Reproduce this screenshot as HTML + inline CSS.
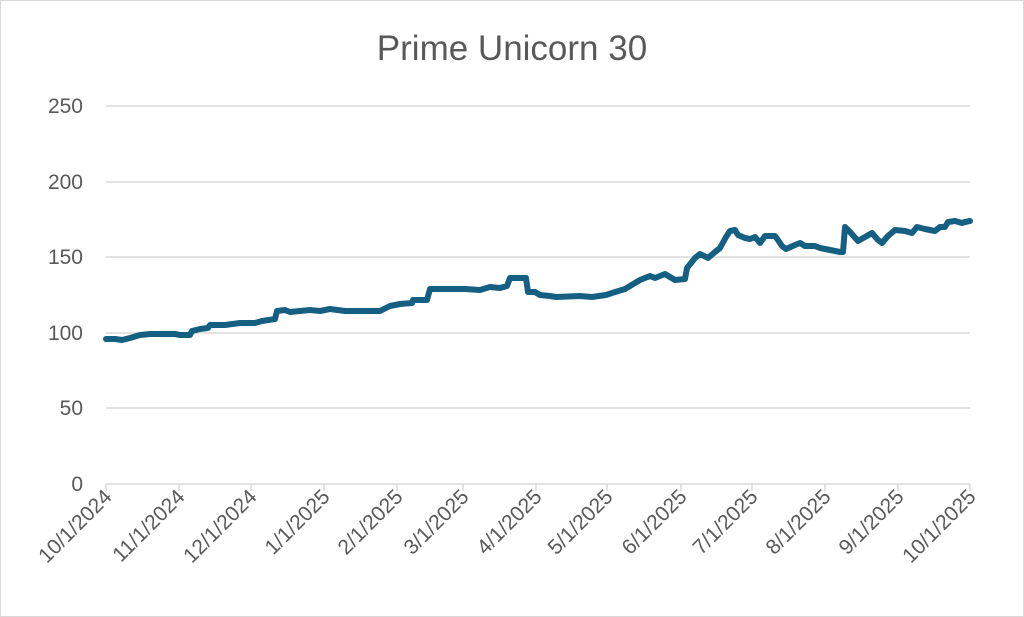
<!DOCTYPE html>
<html><head><meta charset="utf-8"><style>
html,body{margin:0;padding:0;background:#fff}
svg{display:block}
text{font-family:"Liberation Sans",sans-serif;fill:#595959}
</style></head><body>
<svg width="1024" height="617" viewBox="0 0 1024 617">
<rect x="0.5" y="0.5" width="1023" height="616" fill="#fff" stroke="#d9d9d9"/>
<text x="512" y="60" font-size="35" text-anchor="middle">Prime Unicorn 30</text>
<g stroke="#d9d9d9" stroke-width="1.5">
<line x1="106" y1="106" x2="970" y2="106"/>
<line x1="106" y1="182" x2="970" y2="182"/>
<line x1="106" y1="257" x2="970" y2="257"/>
<line x1="106" y1="333" x2="970" y2="333"/>
<line x1="106" y1="408" x2="970" y2="408"/>
<line x1="106" y1="484" x2="970" y2="484"/>
</g>
<g font-size="21" text-anchor="end">
<text x="83" y="113">250</text><text x="83" y="189">200</text><text x="83" y="264">150</text>
<text x="83" y="340">100</text><text x="83" y="415">50</text><text x="83" y="491">0</text>
</g>
<g stroke="#d9d9d9" stroke-width="1.5">
<line x1="106" y1="484" x2="106" y2="491"/><line x1="179" y1="484" x2="179" y2="491"/><line x1="251" y1="484" x2="251" y2="491"/><line x1="324" y1="484" x2="324" y2="491"/><line x1="397" y1="484" x2="397" y2="491"/><line x1="463" y1="484" x2="463" y2="491"/><line x1="536" y1="484" x2="536" y2="491"/><line x1="607" y1="484" x2="607" y2="491"/><line x1="681" y1="484" x2="681" y2="491"/><line x1="752" y1="484" x2="752" y2="491"/><line x1="825" y1="484" x2="825" y2="491"/><line x1="898" y1="484" x2="898" y2="491"/><line x1="970" y1="484" x2="970" y2="491"/>
</g>
<g font-size="21" text-anchor="end">
<text transform="translate(113,498) rotate(-45)">10/1/2024</text>
<text transform="translate(186,498) rotate(-45)">11/1/2024</text>
<text transform="translate(258,498) rotate(-45)">12/1/2024</text>
<text transform="translate(331,498) rotate(-45)">1/1/2025</text>
<text transform="translate(404,498) rotate(-45)">2/1/2025</text>
<text transform="translate(470,498) rotate(-45)">3/1/2025</text>
<text transform="translate(543,498) rotate(-45)">4/1/2025</text>
<text transform="translate(614,498) rotate(-45)">5/1/2025</text>
<text transform="translate(688,498) rotate(-45)">6/1/2025</text>
<text transform="translate(759,498) rotate(-45)">7/1/2025</text>
<text transform="translate(832,498) rotate(-45)">8/1/2025</text>
<text transform="translate(905,498) rotate(-45)">9/1/2025</text>
<text transform="translate(977,498) rotate(-45)">10/1/2025</text>
</g>
<polyline fill="none" stroke="#156082" stroke-width="6" stroke-linejoin="round" stroke-linecap="round" points="106,339 115,339 122,340 130,338 140,335 150,334 175,334 180,335 190,335 192,331 200,329 208,328 210,325 225,325 240,323 255,323 262,321 275,319 277,311 285,310 290,312 310,310 320,311 330,309 345,311 380,311 390,306 400,304 412,303 413,300 427,300 430,289 465,289 480,290 490,287 500,288 507,286 510,278 526,278 528,292 535,292 540,295 550,296 556,297 580,296 592,297 606,295 612,293 625,289 635,283 640,280 650,276 655,278 665,274 670,277 675,280 685,279 687,268 695,258 700,254 708,258 715,252 720,248 726,237 730,231 735,230 738,235 745,238 750,239 755,237 760,243 765,236 775,236 778,240 782,246 786,249 795,245 800,243 805,246 815,246 820,248 830,250 840,252 843,252 845,227 850,232 858,241 865,237 872,233 878,240 882,243 888,236 895,230 905,231 912,233 917,227 925,229 935,231 940,227 945,227 948,222 955,221 962,223 965,222 970,221"/>
</svg>
</body></html>
